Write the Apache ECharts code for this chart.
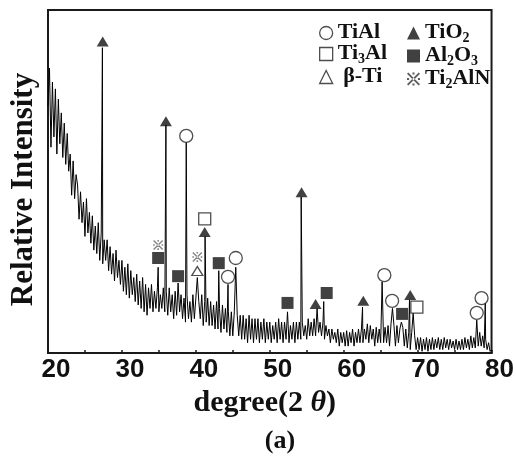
<!DOCTYPE html>
<html>
<head>
<meta charset="utf-8">
<script src="https://cdn.jsdelivr.net/npm/echarts@6/dist/echarts.min.js"></script>
<style>html,body{margin:0;padding:0;background:#fff;}#c{width:517px;height:465px;}</style>
</head>
<body>
<div id="c"></div>
<script>
// ---- data ----
const scanStart = 20;
const scanStep = 0.2;
const counts = [
  72, 83, 60, 79, 63, 77, 58, 74, 61, 70,
  57, 67, 55, 64, 53, 58, 46, 56, 45, 52,
  49, 39, 47, 38, 44, 34, 45, 35, 41, 32,
  40, 30, 37, 29, 38, 27, 35, 26, 33, 27,
  33, 24, 31, 23, 29, 21, 30, 22, 27, 20,
  27, 18, 25, 17, 26, 16, 24, 17, 22, 15,
  23, 14, 21, 13, 22, 12, 20, 11, 19, 13,
  20, 12, 18, 13, 19, 12, 17, 13, 19, 12,
  18, 11, 19, 12, 17, 10, 18, 11, 16, 12,
  17, 10, 16, 9, 17, 10, 15, 9, 17, 10,
  16, 9, 15, 10, 17, 8, 15, 9, 16, 8,
  15, 8, 14, 7, 15, 7, 13, 6, 14, 7,
  13, 6, 12, 5, 12, 5, 12, 4, 11, 5,
  11, 4, 11, 4, 10, 3, 11, 4, 10, 3,
  10, 4, 10, 3, 9, 4, 10, 3, 9, 4,
  9, 3, 8, 4, 9, 3, 10, 4, 9, 3,
  9, 4, 9, 3, 8, 4, 9, 3, 9, 4,
  9, 4, 9, 5, 8, 4, 10, 5, 9, 5,
  10, 5, 10, 6, 9, 5, 9, 4, 8, 5,
  7, 3, 7, 4, 6, 3, 7, 2, 6, 3,
  6, 2, 6.5, 2, 6, 3, 7, 2, 6, 3,
  7, 3, 7, 3, 7, 4, 8.5, 3, 8, 4,
  7, 2, 7.5, 3, 7, 3, 8, 3, 7.5, 3,
  8, 2, 8.5, 3, 8, 2, 8, 3, 7, 2,
  7.5, 2, 7, 1.5, 6, 1, 6, 2, 5, 1,
  4.5, 1, 4.5, 0.5, 4, 1, 4.5, 0.5, 4, 1,
  4.5, 1, 4, 1.5, 4.5, 1, 4, 1, 4.5, 1.5,
  4, 1, 4, 1.5, 3.5, 1, 4, 1, 3.5, 1,
  4, 1, 4.5, 1.5, 4, 1, 5, 1.5, 4.5, 1.5,
  5.5, 2, 6, 2, 5, 1.5, 4, 1, 3, 0.5, 1
];
const peakPos = [27.36, 34.9, 35.95, 37.6, 38.7, 40.2, 41.25, 43.1, 44.35, 45.4, 52.4, 54.25, 56.4, 57.3, 62.55, 65.2, 66.6, 67.8, 68.9, 69.4, 78.0, 79.15];
const peakTop = [89, 25, 66.5, 20.4, 61.5, 22, 34, 24, 20, 25, 12, 45.5, 13, 15, 13.4, 20.7, 13, 9, 15.5, 11.6, 9.6, 14.6];

const tiAlPos   = [38.7, 44.35, 45.4, 65.5, 66.55, 78.0, 78.65];
const tiAlMark  = [63.3, 22.2, 27.7, 22.7, 15.2, 11.7, 16.0];
const ti3AlPos  = [41.2, 69.9];
const ti3AlMark = [39.1, 13.4];
const betaTiPos  = [40.2];
const betaTiMark = [23.9];
const tiO2Pos   = [27.4, 35.95, 41.2, 54.3, 56.2, 62.65, 69.0];
const tiO2Mark  = [90.8, 67.6, 35.3, 46.9, 14.3, 15.2, 16.9];
const al2O3Pos  = [34.9, 37.6, 43.1, 52.4, 57.7, 67.9];
const al2O3Mark = [27.7, 22.4, 26.2, 14.6, 17.5, 11.4];
const ti2AlNPos  = [34.9, 40.2];
const ti2AlNMark = [31.5, 28.0];

const xTicks = [20, 30, 40, 50, 60, 70, 80];

// ---- build trace ----
let trace = counts.map((v, i) => [Math.round((scanStart + i * scanStep) * 100) / 100, v]);
peakPos.forEach((p, k) => {
  const idx = trace.findIndex(d => Math.abs(d[0] - p) < 0.01);
  if (idx >= 0) trace[idx] = [p, peakTop[k]];
  else trace.push([p, peakTop[k]]);
});
trace.sort((a, b) => a[0] - b[0]);

const pairs = (xs, ys) => xs.map((x, i) => [x, ys[i]]);
const SERIF = '"Liberation Serif", "Times New Roman", serif';
const refMark = 'path://M1,0L10,9L9,10L0,1Z M9,0L0,9L1,10L10,1Z M4.2,0h1.6v1.6h-1.6Z M4.2,8.4h1.6v1.6h-1.6Z M0,4.2h1.6v1.6h-1.6Z M8.4,4.2h1.6v1.6h-1.6Z';

const openStyle = {color: '#fff', borderColor: '#222', borderWidth: 1.3};
const filledStyle = {color: '#111'};

const richTxt = {
  n: {fontFamily: SERIF, fontWeight: 'bold', fontSize: 22, color: '#111', verticalAlign: 'bottom', padding: [0, 0, 2, 0]},
  s: {fontFamily: SERIF, fontWeight: 'bold', fontSize: 14, color: '#111', verticalAlign: 'bottom'}
};
const legendLabels = {
  'TiAl': '{n|TiAl}',
  'Ti3Al': '{n|Ti}{s|3}{n|Al}',
  'β-Ti': '{n| β-Ti}',
  'TiO2': '{n|TiO}{s|2}',
  'Al2O3': '{n|Al}{s|2}{n|O}{s|3}',
  'Ti2AlN': '{n|Ti}{s|2}{n|AlN}'
};
const legendCommon = {
  orient: 'vertical', itemWidth: 13, itemHeight: 13, itemGap: -1,
  formatter: name => legendLabels[name],
  textStyle: {fontFamily: SERIF, fontWeight: 'bold', fontSize: 22, color: '#111', rich: richTxt},
  selectedMode: false
};

const chart = echarts.init(document.getElementById('c'), null, {renderer: 'canvas'});
chart.setOption({
  animation: false,
  backgroundColor: '#fff',
  grid: {left: 47, right: 24, top: 10, bottom: 112, show: true, borderColor: '#1a1a1a', borderWidth: 2},
  xAxis: {
    type: 'value', min: 20, max: 80, interval: 5,
    axisLine: {show: true, lineStyle: {color: '#1a1a1a', width: 2}},
    axisTick: {show: true, inside: true, length: 3, lineStyle: {color: '#1a1a1a', width: 1.5}},
    splitLine: {show: false},
    axisLabel: {
      margin: 4, padding: [0, 0, 0, 16],
      formatter: v => (xTicks.indexOf(v) >= 0 ? String(v) : ''),
      fontFamily: '"Liberation Sans", Arial, sans-serif', fontWeight: 'bold', fontSize: 26, color: '#111'
    },
    name: '{n|degree(2 }{i|θ}{n|)}', nameLocation: 'middle', nameGap: 26,
    nameTextStyle: {
      padding: [0, 10, 0, 0],
      rich: {
        n: {fontFamily: SERIF, fontWeight: 'bold', fontSize: 30, color: '#111'},
        i: {fontFamily: SERIF, fontWeight: 'bold', fontStyle: 'italic', fontSize: 30, color: '#111'}
      }
    }
  },
  yAxis: {
    type: 'value', min: 0, max: 100,
    axisLine: {show: true, lineStyle: {color: '#1a1a1a', width: 2}},
    axisTick: {show: false}, axisLabel: {show: false}, splitLine: {show: false},
    name: 'Relative Intensity', nameLocation: 'middle', nameRotate: 90, nameGap: 9,
    nameTextStyle: {fontFamily: SERIF, fontWeight: 'bold', fontSize: 31, color: '#111', padding: [0, 16, 0, 0]}
  },
  legend: [
    Object.assign({}, legendCommon, {left: 314, top: 16, data: [
      {name: 'TiAl', icon: 'circle', itemStyle: openStyle},
      {name: 'Ti3Al', icon: 'rect', itemStyle: openStyle},
      {name: 'β-Ti', icon: 'triangle', itemStyle: openStyle}
    ]}),
    Object.assign({}, legendCommon, {left: 402, top: 16, data: [
      {name: 'TiO2', icon: 'triangle', itemStyle: filledStyle},
      {name: 'Al2O3', icon: 'rect', itemStyle: filledStyle},
      {name: 'Ti2AlN', icon: refMark, itemStyle: {color: '#333'}}
    ]})
  ],
  series: [
    {type: 'line', name: 'pattern', data: trace, showSymbol: false, symbol: 'none',
     lineStyle: {color: '#000', width: 1}, z: 2},
    {type: 'scatter', name: 'TiAl', data: pairs(tiAlPos, tiAlMark), symbol: 'circle', symbolSize: 13, itemStyle: openStyle, z: 5},
    {type: 'scatter', name: 'Ti3Al', data: pairs(ti3AlPos, ti3AlMark), symbol: 'rect', symbolSize: 12, itemStyle: openStyle, z: 5},
    {type: 'scatter', name: 'β-Ti', data: pairs(betaTiPos, betaTiMark), symbol: 'triangle', symbolSize: [11, 9], itemStyle: openStyle, z: 5},
    {type: 'scatter', name: 'TiO2', data: pairs(tiO2Pos, tiO2Mark), symbol: 'triangle', symbolSize: [12, 10], itemStyle: filledStyle, z: 5},
    {type: 'scatter', name: 'Al2O3', data: pairs(al2O3Pos, al2O3Mark), symbol: 'rect', symbolSize: 12, itemStyle: filledStyle, z: 5},
    {type: 'scatter', name: 'Ti2AlN', data: pairs(ti2AlNPos, ti2AlNMark), symbol: refMark, symbolSize: 10, itemStyle: {color: '#666'}, z: 5}
  ],
  graphic: [
    {type: 'text', x: 280, y: 441, style: {text: '(a)', font: 'bold 26px "Liberation Serif", serif', fill: '#111', align: 'center', verticalAlign: 'middle', textAlign: 'center', textVerticalAlign: 'middle'}}
  ]
});
</script>
</body>
</html>
